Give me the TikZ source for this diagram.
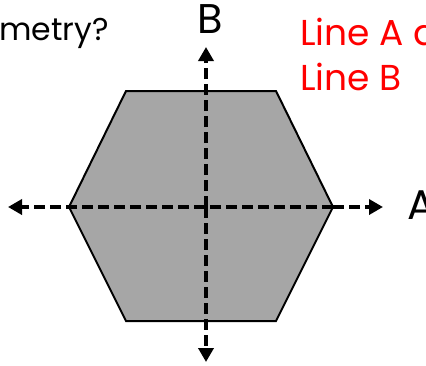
\documentclass[tikz,border=0pt]{standalone}
\usepackage{fontspec}
\setmainfont{Poppins}
\usepackage{tikz}
\usetikzlibrary{arrows.meta}

\tikzset{
    axisline/.style={line width=4pt,dash pattern=on 11pt off 5pt,
        -{Triangle[length=14pt,width=15pt]}},
    hexface/.style={fill=black!35,draw=black,line width=2pt,line join=miter},
}

\begin{document}
\begin{tikzpicture}[x=1pt,y=-1pt]
    \useasboundingbox (0,0) rectangle (426,365);

    % Hexagon with its two lines.
    \coordinate (hexTL) at (126,91);
    \coordinate (hexTR) at (276,91);
    \coordinate (hexR)  at (333,207);
    \coordinate (hexBR) at (276,321);
    \coordinate (hexBL) at (126,321);
    \coordinate (hexL)  at (69,207);
    \draw[hexface] (hexTL) -- (hexTR) -- (hexR) -- (hexBR) -- (hexBL)
        -- (hexL) -- cycle;

    \coordinate (lineAend)   at (383,207);
    \coordinate (lineAstart) at (8,207);
    \coordinate (lineBend)   at (206,47);
    \coordinate (lineBstart) at (206,362);
    \draw[axisline] (hexR) -- (lineAend);
    \draw[axisline] (hexR) -- (lineAstart);
    \draw[axisline] (206,207) -- (lineBend);
    \draw[axisline] (206,207) -- (lineBstart);

    % Texts.
    \node[anchor=base west,inner sep=0pt,font=\fontsize{31.5}{36}\selectfont]
        (question) at (-1,40) {metry?};
    \node[anchor=base west,inner sep=0pt,font=\fontsize{41.5}{48}\selectfont]
        (labelB) at (197,33) {B};
    \node[anchor=base west,inner sep=0pt,font=\fontsize{41.5}{48}\selectfont]
        (labelA) at (407,219) {A};
    \node[anchor=base west,inner sep=0pt,text=red,
        font=\fontsize{36}{45}\selectfont] (answerA) at (300,45) {Line A a};
    \node[anchor=base west,inner sep=0pt,text=red,
        font=\fontsize{36}{45}\selectfont] (answerB) at (300,90) {Line B};
\end{tikzpicture}
\end{document}
